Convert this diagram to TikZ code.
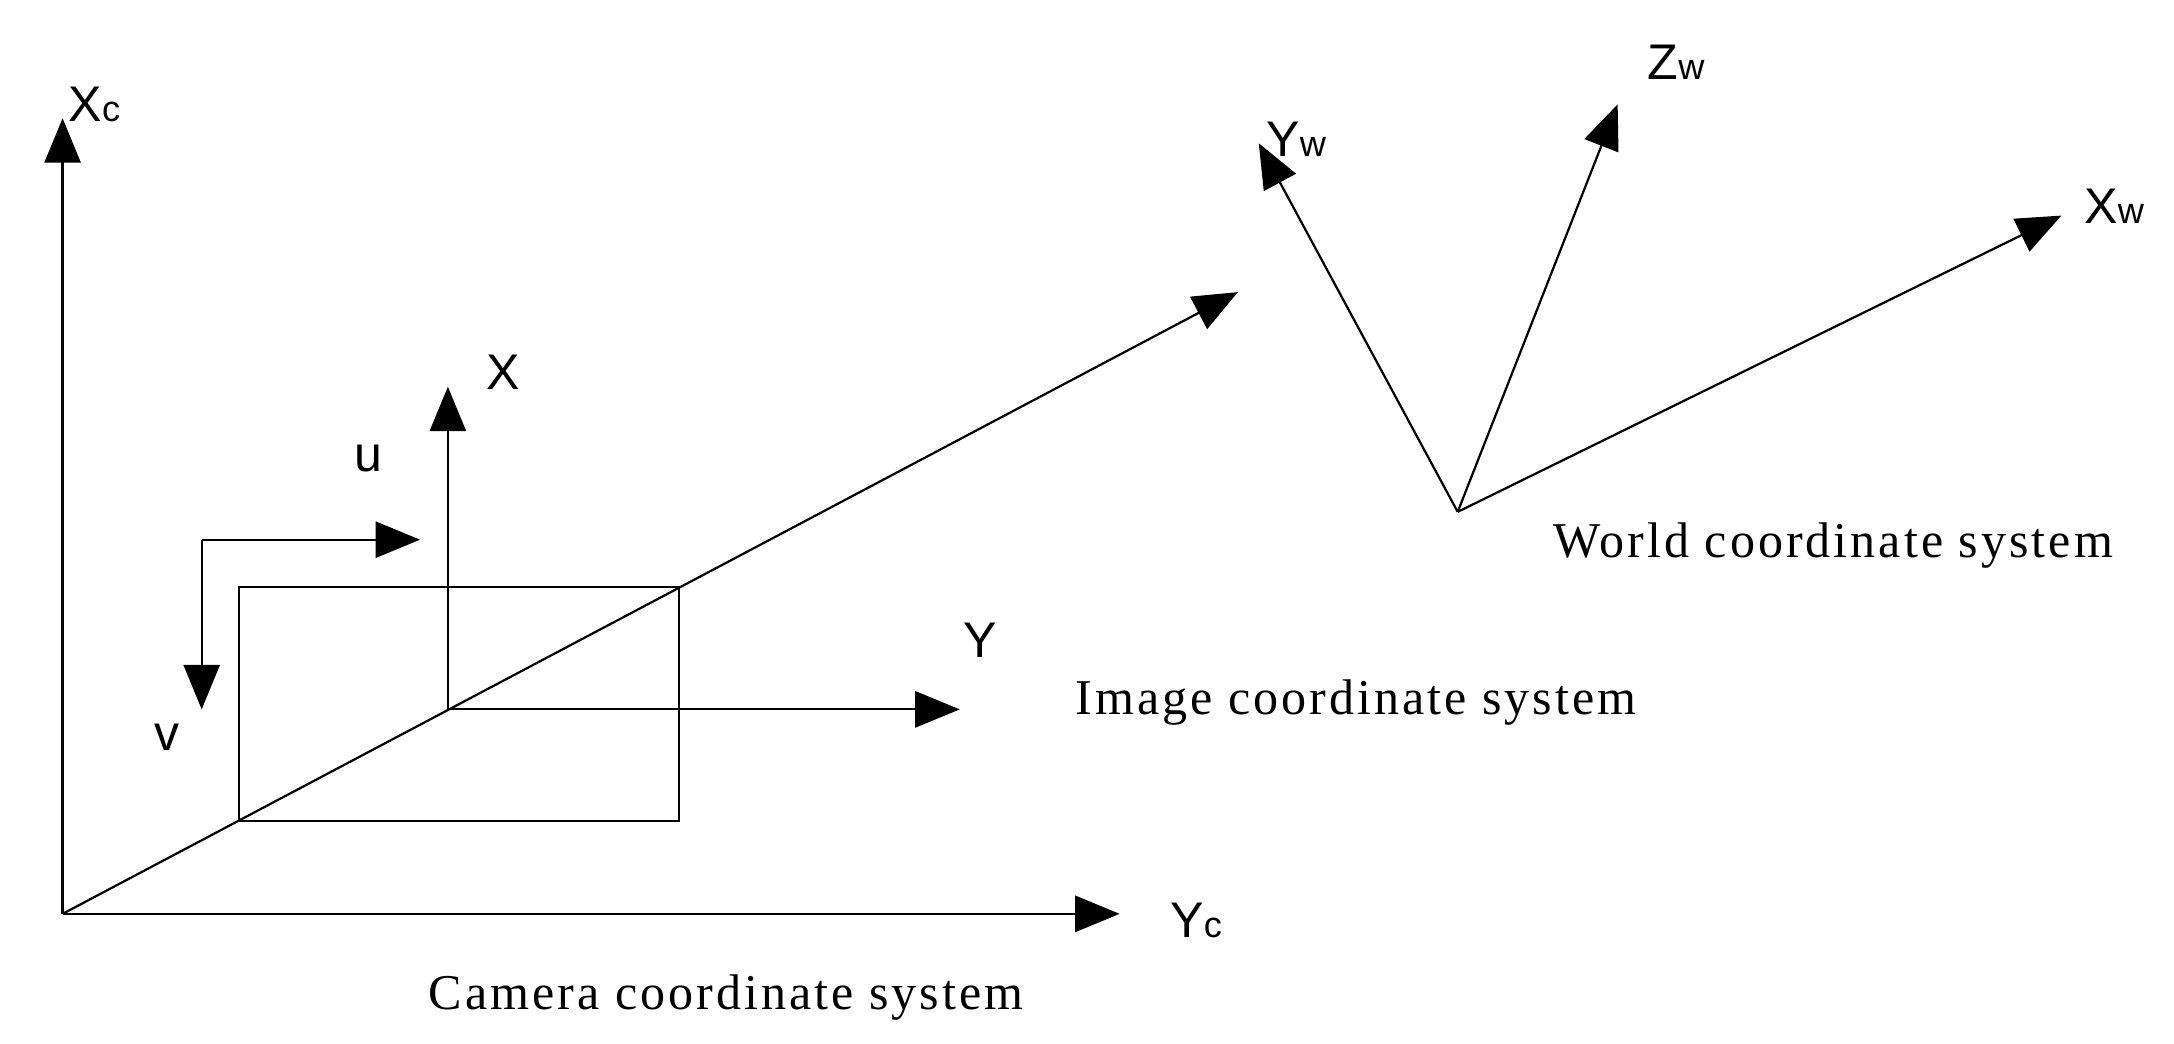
\documentclass[tikz,border=0pt]{standalone}
\usepackage{fontspec}
\setmainfont{Liberation Serif}
\newfontfamily\ax{Liberation Sans}
\usetikzlibrary{arrows.meta}
\begin{document}
\begin{tikzpicture}[x=1pt,y=-1pt,
  ar/.style={line width=1.6pt,-{Triangle[length=32pt,width=26pt]}},
  ln/.style={line width=1.6pt},
  lab/.style={font=\ax\fontsize{36}{38}\selectfont},
  desc/.style={font=\fontsize{36}{38}\selectfont}]
\useasboundingbox (0,0) rectangle (1563,750);
\coordinate (O) at (45,657);
\coordinate (Xc) at (45,85);
\coordinate (Yc) at (805,657);
\coordinate (D) at (890,210);
\coordinate (I) at (322,510);
\coordinate (Xi) at (322,278);
\coordinate (Yi) at (690,510);
\coordinate (C) at (145,388);
\coordinate (U) at (302,388);
\coordinate (V) at (145,510);
\coordinate (W) at (1048,368);
\coordinate (Yw) at (905,103);
\coordinate (Zw) at (1163,75);
\coordinate (Xw) at (1482,155);
\draw[ar] (O) -- (Xc);
\draw[ar] (O) -- (Yc);
\draw[ar] (O) -- (D);
\draw[ln] (172,422) rectangle (488,590);
\draw[ar] (I) -- (Xi);
\draw[ar] (I) -- (Yi);
\draw[ar] (C) -- (U);
\draw[ar] (C) -- (V);
\draw[ar] (W) -- (Yw);
\draw[ar] (W) -- (Zw);
\draw[ar] (W) -- (Xw);
\node[lab] (lXc) at (68,75) {X{\fontsize{26}{26}\selectfont c}};
\node[lab] (lYc) at (860,662) {Y{\fontsize{26}{26}\selectfont c}};
\node[lab] (lX) at (362,268) {X};
\node[lab] (lY) at (705,460) {Y};
\node[lab] (lu) at (265,330) {u};
\node[lab] (lv) at (120,530) {v};
\node[lab] (lYw) at (932,100) {Y{\fontsize{26}{26}\selectfont w}};
\node[lab] (lZw) at (1205,45) {Z{\fontsize{26}{26}\selectfont w}};
\node[lab] (lXw) at (1520,148) {X{\fontsize{26}{26}\selectfont w}};
\node[desc,font=\fontsize{36}{38}\selectfont\addfontfeature{LetterSpace=6}] (tw) at (1318,392) {World coordinate system};
\node[desc,font=\fontsize{36}{38}\selectfont\addfontfeature{LetterSpace=6}] (ti) at (975,505) {Image coordinate system};
\node[desc,font=\fontsize{36}{38}\selectfont\addfontfeature{LetterSpace=6}] (tc) at (522,717) {Camera coordinate system};
\end{tikzpicture}
\end{document}
